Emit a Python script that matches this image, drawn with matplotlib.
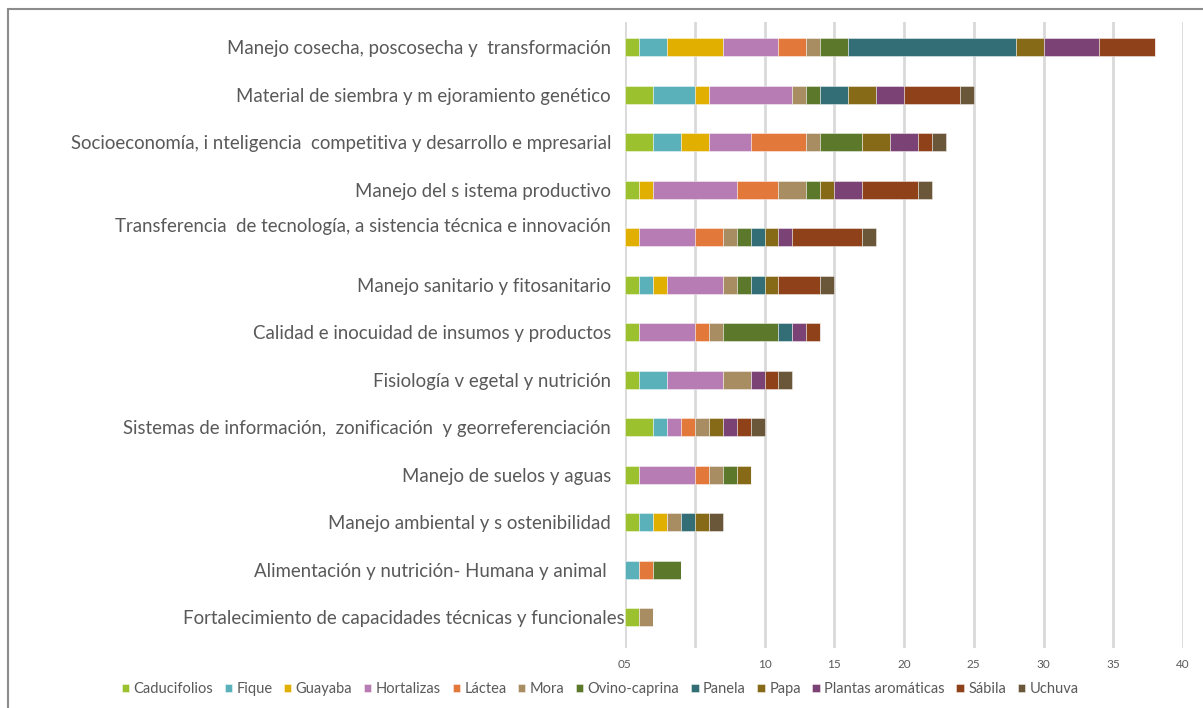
import matplotlib
matplotlib.use("Agg")
import matplotlib.pyplot as plt
import matplotlib.transforms as mtransforms
from matplotlib.patches import Rectangle
import numpy as np

categories = [
    "Manejo cosecha, poscosecha y  transformación",
    "Material de siembra y m ejoramiento genético",
    "Socioeconomía, i nteligencia  competitiva y desarrollo e mpresarial",
    "Manejo del s istema productivo",
    "Transferencia  de tecnología, a sistencia técnica e innovación",
    "Manejo sanitario y fitosanitario",
    "Calidad e inocuidad de insumos y productos",
    "Fisiología v egetal y nutrición",
    "Sistemas de información,  zonificación  y georreferenciación",
    "Manejo de suelos y aguas",
    "Manejo ambiental y s ostenibilidad",
    "Alimentación y nutrición- Humana y animal ",
    "Fortalecimiento de capacidades técnicas y funcionales",
]

series_names = ["Caducifolios", "Fique", "Guayaba", "Hortalizas", "Láctea", "Mora",
                "Ovino-caprina", "Panela", "Papa", "Plantas aromáticas", "Sábila", "Uchuva"]

caducifolios = [1, 2, 2, 1, 0, 1, 1, 1, 2, 1, 1, 0, 1]
fique        = [2, 3, 2, 0, 0, 1, 0, 2, 1, 0, 1, 1, 0]
guayaba      = [4, 1, 2, 1, 1, 1, 0, 0, 0, 0, 1, 0, 0]
hortalizas   = [4, 6, 3, 6, 4, 4, 4, 4, 1, 4, 0, 0, 0]
lactea       = [2, 0, 4, 3, 2, 0, 1, 0, 1, 1, 0, 1, 0]
mora         = [1, 1, 1, 2, 1, 1, 1, 2, 1, 1, 1, 0, 1]
ovino        = [2, 1, 3, 1, 1, 1, 4, 0, 0, 1, 0, 2, 0]
panela       = [12, 2, 0, 0, 1, 1, 1, 0, 0, 0, 1, 0, 0]
papa         = [2, 2, 2, 1, 1, 1, 0, 0, 1, 1, 1, 0, 0]
plantas      = [4, 2, 2, 2, 1, 0, 1, 1, 1, 0, 0, 0, 0]
sabila       = [4, 4, 1, 4, 5, 3, 1, 1, 1, 0, 0, 0, 0]
uchuva       = [0, 1, 1, 1, 1, 1, 0, 1, 1, 0, 1, 0, 0]

series_values = [caducifolios, fique, guayaba, hortalizas, lactea, mora,
                 ovino, panela, papa, plantas, sabila, uchuva]

colors = ["#9BC12F", "#5BB1B9", "#E0AF00", "#B77CB4", "#E3783B", "#A88C62",
          "#5C782B", "#336E76", "#866A17", "#7A4275", "#8F421A", "#6A5638"]

xticks = [0, 5, 10, 15, 20, 25, 30, 35, 40]
xtick_labels = ["05", "", "10", "15", "20", "25", "30", "35", "40"]

plt.rcParams['font.family'] = ['Lato', 'DejaVu Sans']
text_color = "#595959"

fig = plt.figure(figsize=(12.03, 7.08), dpi=100)
ax = fig.add_axes([625/1203, 1 - 648/708, (1183-625)/1203, (648-22)/708])

y = np.arange(len(categories))
left = np.zeros(len(categories))
for name, vals, col in zip(series_names, series_values, colors):
    vals = np.array(vals, dtype=float)
    ax.barh(y, vals, left=left, height=0.38, color=col, label=name,
            edgecolor=(1, 1, 1, 0.5), linewidth=0.6, zorder=3)
    left += vals

ax.set_xlim(0, 40)
ax.set_ylim(12.65, -0.53)
ax.set_xticks(xticks)
ax.set_xticklabels(xtick_labels, fontsize=8.5, color=text_color)
ax.set_yticks(y)
ax.set_yticklabels(categories, fontsize=13.4, color=text_color)
ax.tick_params(axis='y', length=0, pad=10)
ax.tick_params(axis='x', length=0, pad=8)
ax.grid(axis='x', color="#d9d9d9", linewidth=2, zorder=0)
for s in ax.spines.values():
    s.set_visible(False)

# label offsets mimicking the original
labels = ax.get_yticklabels()
labels[4].set_transform(labels[4].get_transform() +
                        mtransforms.ScaledTranslation(0, 12/100, fig.dpi_scale_trans))
labels[12].set_transform(labels[12].get_transform() +
                         mtransforms.ScaledTranslation(14/100, 0, fig.dpi_scale_trans))

leg = fig.legend(loc='center', bbox_to_anchor=(600/1203, 1 - 689/708), ncol=12,
                 frameon=False, fontsize=10.5, handlelength=0.5, handleheight=0.5,
                 handletextpad=0.3, columnspacing=0.8, labelcolor=text_color)

# outer border
fig.patches.append(Rectangle((8/1203, -0.05), 1.1, 1 - 9/708 + 0.05,
                             transform=fig.transFigure, fill=False,
                             edgecolor="#8c8c8c", linewidth=1.5, clip_on=False))

fig.savefig("out.png", dpi=100)
